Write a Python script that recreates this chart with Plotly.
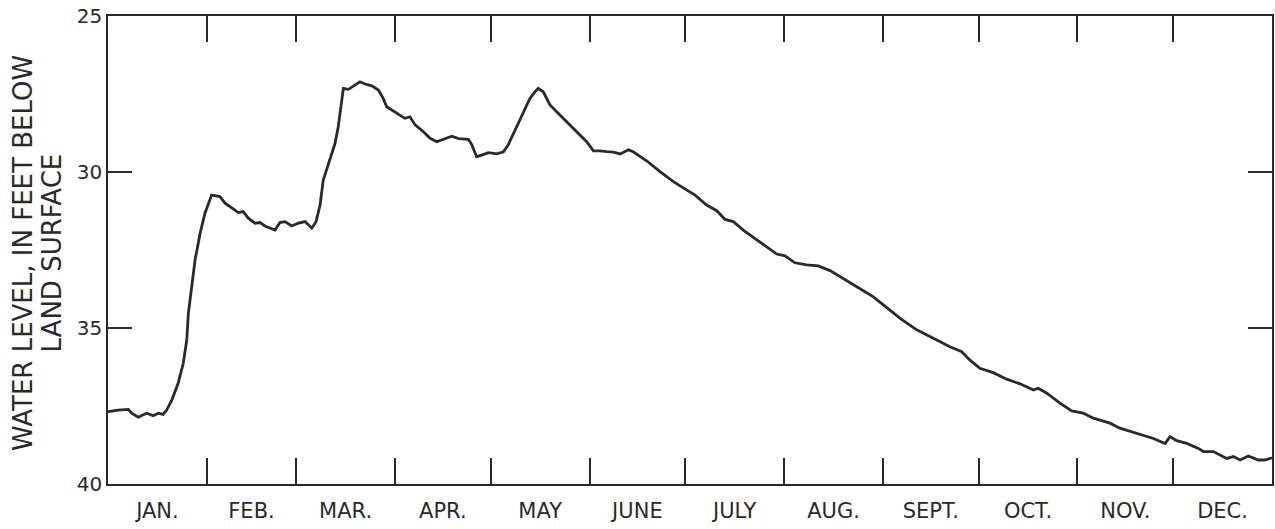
import plotly.graph_objects as go

# Day of year (0-365) and water level (feet below land surface)
days = [0, 3.2, 6.4, 7.4, 9.5, 12.1, 14.2, 15.8, 17.3, 18.4, 20.0, 22.0, 23.6, 24.7, 25.2, 26.3,
        27.3, 28.9, 30.4, 32.5, 35.1, 36.7, 38.8, 40.9, 42.4, 44.0, 46.1, 47.7, 49.2, 52.4, 53.9,
        55.5, 57.6, 59.7, 61.8, 63.9, 65.2, 66.5, 67.5, 69.1, 71.2, 72.2, 73.3, 73.8, 75.4, 76.9,
        79.0, 80.6, 82.7, 84.8, 86.3, 87.4, 89.0, 91.6, 93.1, 94.7, 96.3, 98.9, 101.0, 103.1,
        105.1, 107.8, 109.9, 113.0, 114.1, 115.6, 117.2, 119.3, 121.9, 124.0, 125.5, 128.2,
        130.2, 132.3, 133.9, 134.9, 136.5, 137.6, 138.6, 140.7, 143.8, 147.0, 150.1, 152.2,
        154.3, 156.4, 158.5, 160.6, 163.2, 164.7, 168.9, 173.1, 177.3, 181.5, 184.1, 187.7,
        190.9, 193.5, 196.1, 199.2, 202.4, 206.6, 209.7, 212.3, 215.4, 219.1, 222.7, 226.4,
        230.6, 234.8, 240.0, 248.4, 253.6, 258.8, 264.0, 267.7, 270.3, 273.4, 277.6, 281.8,
        286.0, 290.2, 291.7, 294.4, 298.5, 302.2, 305.8, 309.0, 314.2, 317.3, 322.6, 327.8,
        331.5, 333.0, 335.1, 338.3, 341.9, 343.5, 346.6, 350.8, 352.9, 355.0, 357.6, 360.7,
        362.8, 365.0]
level = [37.68, 37.63, 37.61, 37.73, 37.86, 37.73, 37.81, 37.73, 37.77, 37.63, 37.31, 36.77,
         36.13, 35.38, 34.53, 33.68, 32.82, 31.96, 31.32, 30.74, 30.79, 31.00, 31.16, 31.30,
         31.27, 31.48, 31.64, 31.62, 31.73, 31.86, 31.62, 31.59, 31.73, 31.64, 31.59, 31.80,
         31.60, 31.06, 30.26, 29.72, 29.08, 28.55, 27.80, 27.32, 27.35, 27.24, 27.11, 27.18,
         27.24, 27.37, 27.64, 27.91, 28.01, 28.17, 28.28, 28.23, 28.49, 28.71, 28.92, 29.03,
         28.95, 28.85, 28.93, 28.95, 29.13, 29.51, 29.46, 29.38, 29.42, 29.35, 29.13, 28.55,
         28.12, 27.64, 27.43, 27.32, 27.43, 27.64, 27.85, 28.07, 28.39, 28.71, 29.03, 29.32,
         29.32, 29.35, 29.36, 29.42, 29.29, 29.35, 29.64, 29.99, 30.31, 30.58, 30.74, 31.06,
         31.24, 31.52, 31.59, 31.86, 32.09, 32.39, 32.63, 32.69, 32.91, 32.98, 33.01, 33.16,
         33.41, 33.68, 34.00, 34.69, 35.06, 35.33, 35.60, 35.76, 36.03, 36.29, 36.43, 36.64,
         36.79, 36.99, 36.93, 37.09, 37.41, 37.66, 37.73, 37.89, 38.05, 38.21, 38.37, 38.54,
         38.70, 38.48, 38.61, 38.70, 38.86, 38.96, 38.96, 39.18, 39.12, 39.23, 39.10, 39.23,
         39.23, 39.16]

month_bounds = [31, 59, 90, 120, 151, 181, 212, 243, 273, 304, 334]
month_mids = [15.5, 45, 74.5, 105, 135.5, 166, 196.5, 227.5, 258, 288.5, 319, 349.5]
month_labels = ["JAN.", "FEB.", "MAR.", "APR.", "MAY", "JUNE", "JULY", "AUG.",
                "SEPT.", "OCT.", "NOV.", "DEC."]
y_ticks = [25, 30, 35, 40]
y_title_lines = ["WATER LEVEL, IN FEET BELOW", "LAND SURFACE"]

ink = "#2a2a2a"
font_family = "DejaVu Sans"

fig = go.Figure()
fig.add_trace(go.Scatter(x=days, y=level, mode="lines",
                         line=dict(color=ink, width=2.8), showlegend=False,
                         hoverinfo="skip"))

fig.update_layout(
    width=1275, height=529,
    margin=dict(l=108, r=3, t=16, b=45),
    paper_bgcolor="white", plot_bgcolor="white",
    font=dict(family=font_family, color=ink),
    xaxis=dict(
        range=[0, 365], showgrid=False, zeroline=False, automargin=False,
        showline=True, linecolor=ink, linewidth=1.6, mirror="ticks",
        tickmode="array", tickvals=month_mids, ticktext=month_labels,
        ticks="", ticklabelstandoff=7,
        tickfont=dict(size=21, family=font_family, color=ink),
        minor=dict(tickmode="array", tickvals=month_bounds, ticks="inside",
                   ticklen=26, tickwidth=1.8, tickcolor=ink, showgrid=False),
    ),
    yaxis=dict(
        range=[40, 25], showgrid=False, zeroline=False, automargin=False,
        showline=True, linecolor=ink, linewidth=1.6, mirror="ticks",
        tickmode="array", tickvals=y_ticks, ticktext=[str(v) for v in y_ticks],
        ticks="inside", ticklen=24, tickwidth=1.6, tickcolor=ink,
        tickfont=dict(size=20, family=font_family, color=ink),
    ),
)

# Two-line rotated y-axis title
for txt, xpos in zip(y_title_lines, [-0.0730, -0.0477]):
    fig.add_annotation(text=txt, xref="paper", yref="paper", x=xpos, y=0.4936,
                       xanchor="center", yanchor="middle", textangle=-90,
                       showarrow=False,
                       font=dict(size=26, family=font_family, color=ink))

fig.write_html("out.html", config={"displayModeBar": False},
               post_script="document.body.style.margin='0';")
